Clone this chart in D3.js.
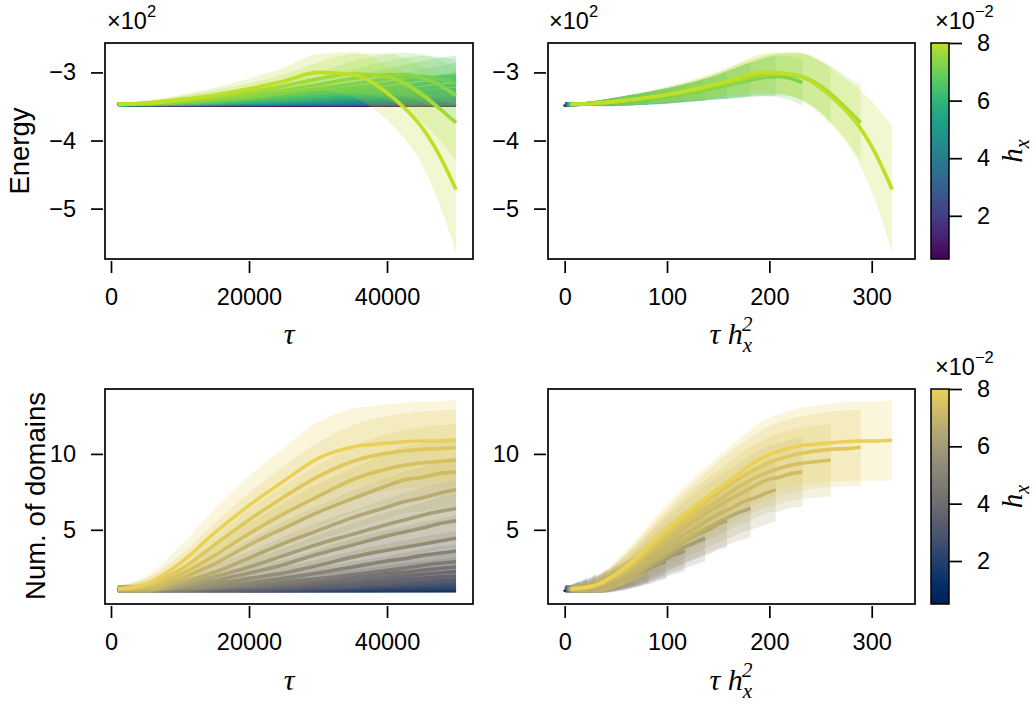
<!DOCTYPE html>
<html>
<head>
<meta charset="utf-8">
<script src="https://cdn.jsdelivr.net/npm/d3@7"></script>
<style>
  body { margin: 0; background: #fff; }
</style>
</head>
<body>
<div class="stage"></div>
<script>
var width = 1036;
var height = 710;

// transverse field h_x of each run (x 10^-2)
var hx = [0.5, 0.895, 1.289, 1.684, 2.079, 2.474, 2.868, 3.263, 3.658, 4.053,
          4.447, 4.842, 5.237, 5.632, 6.026, 6.421, 6.816, 7.211, 7.605, 8.0];

// annealing time tau where the curves were read
var tau = [1000, 5000, 10000, 15000, 20000, 25000, 30000, 35000, 40000, 42500, 45000, 47500, 50000];

// mean energy (x 10^2), one row per h_x
var energyMean = [
  [-3.47,-3.474,-3.477,-3.479,-3.48,-3.48,-3.48,-3.48,-3.48,-3.48,-3.48,-3.48,-3.48],
  [-3.47,-3.472,-3.474,-3.476,-3.477,-3.478,-3.478,-3.478,-3.478,-3.478,-3.478,-3.478,-3.478],
  [-3.47,-3.471,-3.472,-3.472,-3.472,-3.472,-3.472,-3.472,-3.471,-3.471,-3.471,-3.471,-3.471],
  [-3.47,-3.47,-3.47,-3.47,-3.47,-3.47,-3.47,-3.469,-3.468,-3.467,-3.467,-3.466,-3.466],
  [-3.47,-3.47,-3.47,-3.469,-3.469,-3.468,-3.467,-3.466,-3.465,-3.464,-3.463,-3.463,-3.462],
  [-3.47,-3.47,-3.47,-3.468,-3.467,-3.466,-3.464,-3.462,-3.459,-3.458,-3.457,-3.456,-3.454],
  [-3.47,-3.47,-3.468,-3.467,-3.465,-3.463,-3.46,-3.456,-3.452,-3.45,-3.448,-3.446,-3.444],
  [-3.47,-3.47,-3.468,-3.465,-3.462,-3.458,-3.453,-3.448,-3.441,-3.438,-3.433,-3.429,-3.425],
  [-3.47,-3.47,-3.466,-3.463,-3.458,-3.452,-3.445,-3.435,-3.425,-3.42,-3.415,-3.41,-3.405],
  [-3.47,-3.469,-3.465,-3.459,-3.452,-3.443,-3.431,-3.419,-3.406,-3.4,-3.394,-3.387,-3.379],
  [-3.47,-3.468,-3.463,-3.455,-3.445,-3.431,-3.416,-3.401,-3.385,-3.376,-3.367,-3.357,-3.347],
  [-3.47,-3.468,-3.461,-3.45,-3.435,-3.417,-3.399,-3.379,-3.357,-3.346,-3.333,-3.32,-3.306],
  [-3.47,-3.467,-3.457,-3.444,-3.423,-3.402,-3.379,-3.353,-3.323,-3.308,-3.291,-3.272,-3.253],
  [-3.47,-3.466,-3.454,-3.434,-3.41,-3.384,-3.355,-3.32,-3.281,-3.259,-3.236,-3.21,-3.185],
  [-3.47,-3.464,-3.449,-3.423,-3.396,-3.363,-3.32,-3.28,-3.228,-3.2,-3.168,-3.136,-3.105],
  [-3.47,-3.463,-3.444,-3.412,-3.379,-3.338,-3.29,-3.232,-3.163,-3.127,-3.095,-3.07,-3.05],
  [-3.47,-3.461,-3.436,-3.4,-3.36,-3.31,-3.245,-3.17,-3.095,-3.065,-3.06,-3.09,-3.15],
  [-3.47,-3.458,-3.425,-3.38,-3.33,-3.265,-3.18,-3.09,-3.03,-3.03,-3.08,-3.18,-3.34],
  [-3.47,-3.455,-3.415,-3.36,-3.29,-3.2,-3.095,-3.02,-3.06,-3.16,-3.32,-3.52,-3.74],
  [-3.47,-3.45,-3.4,-3.335,-3.24,-3.13,-3.0,-3.03,-3.3,-3.52,-3.8,-4.2,-4.72]
];

// spread of the energy (x 10^2)
var energySd = [
  [0.01,0.01,0.01,0.01,0.01,0.01,0.01,0.01,0.01,0.01,0.01,0.01,0.01],
  [0.01,0.01,0.01,0.01,0.01,0.01,0.01,0.01,0.01,0.01,0.01,0.01,0.01],
  [0.01,0.01,0.01,0.01,0.01,0.01,0.01,0.01,0.01,0.01,0.01,0.01,0.01],
  [0.01,0.01,0.01,0.01,0.01,0.01,0.01,0.01,0.02,0.02,0.02,0.02,0.02],
  [0.01,0.01,0.01,0.01,0.01,0.02,0.02,0.02,0.02,0.02,0.02,0.03,0.03],
  [0.01,0.01,0.01,0.01,0.02,0.02,0.02,0.03,0.03,0.03,0.03,0.03,0.04],
  [0.01,0.01,0.01,0.02,0.02,0.03,0.03,0.03,0.04,0.04,0.04,0.05,0.05],
  [0.01,0.01,0.02,0.02,0.03,0.03,0.04,0.04,0.05,0.05,0.06,0.06,0.06],
  [0.01,0.01,0.02,0.03,0.03,0.04,0.05,0.06,0.06,0.07,0.07,0.07,0.08],
  [0.01,0.01,0.02,0.03,0.04,0.05,0.06,0.07,0.08,0.08,0.08,0.09,0.09],
  [0.01,0.01,0.02,0.03,0.05,0.06,0.07,0.08,0.09,0.09,0.1,0.1,0.11],
  [0.01,0.02,0.03,0.04,0.06,0.07,0.08,0.09,0.1,0.11,0.12,0.12,0.13],
  [0.01,0.02,0.03,0.05,0.06,0.08,0.09,0.11,0.12,0.13,0.14,0.15,0.16],
  [0.01,0.02,0.04,0.06,0.07,0.09,0.11,0.12,0.14,0.16,0.17,0.18,0.2],
  [0.01,0.02,0.04,0.06,0.08,0.1,0.12,0.14,0.17,0.19,0.21,0.23,0.25],
  [0.01,0.03,0.05,0.07,0.09,0.11,0.14,0.17,0.22,0.24,0.26,0.28,0.3],
  [0.01,0.03,0.06,0.08,0.1,0.13,0.16,0.21,0.26,0.28,0.3,0.32,0.34],
  [0.01,0.03,0.06,0.09,0.11,0.15,0.19,0.25,0.3,0.32,0.35,0.37,0.41],
  [0.01,0.03,0.07,0.1,0.13,0.17,0.24,0.29,0.34,0.37,0.41,0.46,0.56],
  [0.01,0.04,0.07,0.11,0.15,0.2,0.27,0.33,0.4,0.45,0.54,0.71,0.93]
];

// mean number of domains
var domainMean = [
  [1.05,1.03,1.02,1.02,1.01,1.01,1.01,1.01,1.0,1.0,1.0,1.0,1.0],
  [1.08,1.07,1.06,1.06,1.05,1.05,1.05,1.05,1.05,1.05,1.05,1.05,1.05],
  [1.1,1.1,1.1,1.1,1.1,1.1,1.11,1.11,1.11,1.12,1.12,1.12,1.12],
  [1.1,1.1,1.1,1.1,1.11,1.13,1.15,1.16,1.18,1.19,1.2,1.21,1.22],
  [1.1,1.1,1.1,1.11,1.13,1.16,1.19,1.22,1.26,1.28,1.3,1.33,1.35],
  [1.1,1.1,1.1,1.12,1.15,1.19,1.24,1.29,1.35,1.38,1.42,1.46,1.5],
  [1.1,1.1,1.1,1.13,1.17,1.23,1.3,1.38,1.47,1.52,1.58,1.64,1.7],
  [1.1,1.1,1.1,1.15,1.2,1.29,1.4,1.52,1.65,1.72,1.8,1.88,1.95],
  [1.1,1.1,1.11,1.17,1.25,1.37,1.52,1.68,1.87,1.97,2.06,2.15,2.25],
  [1.1,1.1,1.12,1.2,1.3,1.45,1.65,1.85,2.1,2.2,2.33,2.45,2.55],
  [1.1,1.1,1.12,1.2,1.33,1.55,1.77,2.05,2.33,2.48,2.65,2.8,2.9],
  [1.1,1.1,1.15,1.28,1.5,1.8,2.15,2.55,2.95,3.1,3.3,3.45,3.6],
  [1.1,1.1,1.2,1.45,1.8,2.15,2.65,3.2,3.65,3.85,4.05,4.25,4.45],
  [1.1,1.1,1.26,1.65,2.15,2.7,3.4,4.0,4.6,4.85,5.1,5.4,5.6],
  [1.1,1.12,1.37,1.9,2.55,3.3,4.05,4.7,5.35,5.65,5.95,6.2,6.4],
  [1.1,1.15,1.55,2.2,3.15,4.1,4.95,5.8,6.5,6.85,7.1,7.4,7.65],
  [1.1,1.2,1.8,2.75,4.0,5.1,6.15,7.05,7.9,8.3,8.45,8.7,8.8],
  [1.1,1.27,2.05,3.3,4.75,6.05,7.2,8.3,9.0,9.25,9.4,9.5,9.6],
  [1.1,1.33,2.35,4.0,5.65,7.15,8.5,9.5,10.05,10.2,10.3,10.35,10.42],
  [1.1,1.4,2.8,4.8,6.6,8.2,9.7,10.45,10.7,10.8,10.85,10.85,10.9]
];

// spread of the number of domains
var domainSd = [
  [0.15,0.12,0.1,0.1,0.1,0.1,0.1,0.1,0.1,0.1,0.1,0.1,0.1],
  [0.19,0.17,0.15,0.14,0.13,0.12,0.12,0.12,0.12,0.12,0.12,0.12,0.12],
  [0.23,0.23,0.23,0.23,0.23,0.23,0.25,0.25,0.25,0.26,0.26,0.26,0.26],
  [0.23,0.23,0.23,0.23,0.25,0.28,0.3,0.32,0.34,0.35,0.36,0.37,0.38],
  [0.23,0.23,0.23,0.25,0.28,0.32,0.35,0.38,0.42,0.43,0.45,0.47,0.49],
  [0.23,0.23,0.23,0.26,0.3,0.35,0.4,0.44,0.49,0.51,0.54,0.56,0.59],
  [0.23,0.23,0.23,0.28,0.33,0.39,0.45,0.51,0.57,0.6,0.63,0.66,0.69],
  [0.23,0.23,0.23,0.3,0.36,0.44,0.52,0.6,0.67,0.7,0.74,0.78,0.81],
  [0.23,0.23,0.25,0.33,0.41,0.5,0.6,0.69,0.77,0.82,0.85,0.89,0.93],
  [0.23,0.23,0.26,0.36,0.45,0.56,0.67,0.77,0.87,0.91,0.95,1.0,1.03],
  [0.23,0.23,0.26,0.36,0.47,0.62,0.73,0.85,0.95,1.01,1.06,1.11,1.14],
  [0.23,0.23,0.3,0.43,0.59,0.74,0.89,1.03,1.15,1.2,1.25,1.29,1.33],
  [0.23,0.23,0.36,0.56,0.74,0.89,1.06,1.22,1.34,1.39,1.44,1.48,1.53],
  [0.23,0.23,0.42,0.67,0.89,1.08,1.28,1.42,1.56,1.61,1.66,1.72,1.76],
  [0.23,0.26,0.5,0.79,1.03,1.25,1.44,1.58,1.71,1.77,1.82,1.87,1.9],
  [0.23,0.3,0.62,0.91,1.21,1.45,1.63,1.79,1.92,1.98,2.02,2.07,2.11],
  [0.23,0.36,0.74,1.09,1.42,1.66,1.86,2.01,2.14,2.2,2.23,2.26,2.28],
  [0.23,0.43,0.85,1.25,1.59,1.84,2.03,2.2,2.31,2.34,2.36,2.38,2.39],
  [0.23,0.47,0.96,1.42,1.77,2.03,2.23,2.38,2.45,2.47,2.48,2.49,2.5],
  [0.23,0.52,1.11,1.6,1.93,2.19,2.4,2.5,2.55,2.58,2.6,2.62,2.65]
];

var sans = '"Liberation Sans", Arial, sans-serif';
var serif = '"Liberation Serif", "DejaVu Serif", serif';

// colour maps stop a little short of the bright end
var viridis = function(t) { return d3.interpolateViridis(0.9 * t); };
var cividis = function(t) { return d3.interpolateCividis(0.9 * t); };
var hxNorm = d3.scaleLinear().domain([0.5, 8]).range([0, 1]);

var svg = d3.select('.stage')
            .append('svg')
            .attr('width', width)
            .attr('height', height)
            .style('background', '#fff');
var defs = svg.append('defs');

var panels = [
  { id: 'tl', left: 105, right: 473, top: 43, bottom: 259, xdom: [-870, 52460], ydom: [-5.74, -2.568],
    xticks: [0, 20000, 40000], yticks: [-5, -4, -3], mean: energyMean, sd: energySd, cmap: viridis, scaled: false },
  { id: 'tr', left: 548, right: 915, top: 43, bottom: 259, xdom: [-16.3, 342.3], ydom: [-5.74, -2.568],
    xticks: [0, 100, 200, 300], yticks: [-5, -4, -3], mean: energyMean, sd: energySd, cmap: viridis, scaled: true },
  { id: 'bl', left: 105, right: 473, top: 389, bottom: 604, xdom: [-870, 52460], ydom: [0.112, 14.276],
    xticks: [0, 20000, 40000], yticks: [5, 10], mean: domainMean, sd: domainSd, cmap: cividis, scaled: false },
  { id: 'br', left: 548, right: 915, top: 389, bottom: 604, xdom: [-16.3, 342.3], ydom: [0.112, 14.276],
    xticks: [0, 100, 200, 300], yticks: [5, 10], mean: domainMean, sd: domainSd, cmap: cividis, scaled: true }
];

var drawPanel = function(p) {
  var x = d3.scaleLinear().domain(p.xdom).range([p.left, p.right]);
  var y = d3.scaleLinear().domain(p.ydom).range([p.bottom, p.top]);

  defs.append('clipPath').attr('id', 'clip-' + p.id)
    .append('rect')
    .attr('x', p.left).attr('y', p.top)
    .attr('width', p.right - p.left).attr('height', p.bottom - p.top);

  var area = d3.area()
    .x(function(d) { return x(d.x); })
    .y0(function(d) { return y(d.m - d.s); })
    .y1(function(d) { return y(d.m + d.s); })
    .curve(d3.curveMonotoneX);
  var line = d3.line()
    .x(function(d) { return x(d.x); })
    .y(function(d) { return y(d.m); })
    .curve(d3.curveMonotoneX);

  var g = svg.append('g').attr('clip-path', 'url(#clip-' + p.id + ')');
  hx.forEach(function(h, k) {
    var pts = tau.map(function(t, i) {
      return { x: p.scaled ? t * h * h * 1e-4 : t, m: p.mean[k][i], s: p.sd[k][i] };
    });
    var c = p.cmap(hxNorm(h));
    g.append('path').datum(pts)
      .attr('d', area)
      .attr('fill', c)
      .attr('fill-opacity', 0.21);
    g.append('path').datum(pts)
      .attr('d', line)
      .attr('fill', 'none')
      .attr('stroke', c)
      .attr('stroke-width', 3.6);
  });

  // frame
  svg.append('rect')
    .attr('x', p.left).attr('y', p.top)
    .attr('width', p.right - p.left).attr('height', p.bottom - p.top)
    .attr('fill', 'none').attr('stroke', '#000').attr('stroke-width', 1.7);

  var xa = svg.append('g')
    .attr('transform', 'translate(0,' + (p.bottom + 2) + ')')
    .call(d3.axisBottom(x).tickValues(p.xticks).tickSize(12).tickPadding(15).tickFormat(d3.format('d')));
  var ya = svg.append('g')
    .attr('transform', 'translate(' + (p.left - 2) + ',0)')
    .call(d3.axisLeft(y).tickValues(p.yticks).tickSize(12).tickPadding(15).tickFormat(d3.format('d')));
  [xa, ya].forEach(function(a) {
    a.select('.domain').remove();
    a.attr('font-family', sans).attr('font-size', 23.5);
    a.selectAll('line').attr('stroke', '#000').attr('stroke-width', 1.7);
    a.selectAll('text').attr('fill', '#000');
  });
};

panels.forEach(drawPanel);

// "x10^n" offset labels
var offsetText = function(x, yBase, exp) {
  var t = svg.append('text')
    .attr('x', x).attr('y', yBase)
    .attr('font-family', sans).attr('font-size', 23.5);
  t.append('tspan').text('\u00d710');
  t.append('tspan').attr('dy', -12).attr('font-size', 16.5).text(exp);
};

// colour bars
var drawColorbar = function(c) {
  var grad = defs.append('linearGradient').attr('id', 'grad-' + c.id)
    .attr('x1', 0).attr('y1', 1).attr('x2', 0).attr('y2', 0);
  d3.range(0, 21).forEach(function(i) {
    grad.append('stop').attr('offset', i / 20).attr('stop-color', c.cmap(i / 20));
  });
  svg.append('rect')
    .attr('x', c.left).attr('y', c.top)
    .attr('width', c.right - c.left).attr('height', c.bottom - c.top)
    .attr('fill', 'url(#grad-' + c.id + ')')
    .attr('stroke', '#000').attr('stroke-width', 1.5);
  var s = d3.scaleLinear().domain([0.5, 8]).range([c.bottom, c.top]);
  var a = svg.append('g')
    .attr('transform', 'translate(' + c.right + ',0)')
    .call(d3.axisRight(s).tickValues([2, 4, 6, 8]).tickSize(13).tickPadding(15).tickFormat(d3.format('d')));
  a.select('.domain').remove();
  a.attr('font-family', sans).attr('font-size', 23.5);
  a.selectAll('line').attr('stroke', '#000').attr('stroke-width', 1.7);
  a.selectAll('text').attr('fill', '#000');

  var lab = svg.append('text')
    .attr('transform', 'translate(1022,' + ((c.top + c.bottom) / 2) + ') rotate(-90)')
    .attr('text-anchor', 'middle')
    .attr('font-family', serif).attr('font-style', 'italic').attr('font-size', 29);
  lab.append('tspan').text('h');
  lab.append('tspan').attr('dy', 7).attr('font-size', 20).text('x');

  offsetText(935, c.top - 14, '\u22122');
};

drawColorbar({ id: 'cb1', left: 931, right: 949, top: 43, bottom: 259, cmap: viridis });
drawColorbar({ id: 'cb2', left: 931, right: 949, top: 389, bottom: 604, cmap: cividis });

offsetText(107, 29, '2');
offsetText(549, 29, '2');

// axis labels
var yLabel = function(txt, xb, yc) {
  svg.append('text')
    .attr('transform', 'translate(' + xb + ',' + yc + ') rotate(-90)')
    .attr('text-anchor', 'middle')
    .attr('font-family', sans).attr('font-size', 27.5)
    .text(txt);
};
yLabel('Energy', 29, 151);
yLabel('Num. of domains', 45, 496);

var tauLabel = function(xc, yb) {
  svg.append('text')
    .attr('x', xc).attr('y', yb)
    .attr('text-anchor', 'middle')
    .attr('font-family', serif).attr('font-style', 'italic').attr('font-size', 30)
    .text('\u03c4');
};
var scaledLabel = function(xc, yb) {
  var t = svg.append('text')
    .attr('x', xc).attr('y', yb)
    .attr('text-anchor', 'middle')
    .attr('font-family', serif).attr('font-style', 'italic').attr('font-size', 30);
  t.append('tspan').text('\u03c4 h');
  t.append('tspan').attr('dy', 8).attr('font-size', 21).text('x');
  t.append('tspan').attr('dx', -10).attr('dy', -21).attr('font-size', 21).text('2');
};
tauLabel(289, 344);
tauLabel(289, 690);
scaledLabel(731, 344);
scaledLabel(731, 690);
</script>
</body>
</html>
